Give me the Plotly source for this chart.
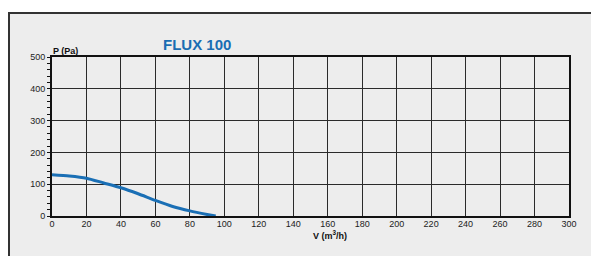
import plotly.graph_objects as go

flow = [0, 10, 20, 30, 40, 50, 60, 70, 80, 90, 95]
pressure = [130, 126, 119, 104, 89, 70, 49, 30, 16, 5, 0]
x_ticks = list(range(0, 301, 20))
y_ticks = list(range(0, 501, 100))

W, H = 591, 256
L, R, T, B = 52, 22, 57, 40
pw, ph = W - L - R, H - T - B

def px2paperx(px):
    return (px - L) / pw

def px2papery(py):
    return (H - B - py) / ph

fig = go.Figure()
fig.add_trace(go.Scatter(x=flow, y=pressure, mode="lines",
                         line=dict(color="#1a6fb5", width=3, shape="spline", smoothing=0.6),
                         hoverinfo="skip", showlegend=False, cliponaxis=False))

fig.add_shape(type="rect", xref="paper", yref="paper",
              x0=px2paperx(9), x1=px2paperx(W + 20), y0=px2papery(H + 20), y1=px2papery(13),
              line=dict(color="#333333", width=2), fillcolor="#ededed", layer="below")

font = "Liberation Sans, Arial, sans-serif"
fig.add_annotation(x=px2paperx(197), y=px2papery(44), xref="paper", yref="paper",
                   text="<b>FLUX 100</b>", showarrow=False, xanchor="center", yanchor="middle",
                   font=dict(family=font, size=15, color="#1a6db3"))
fig.add_annotation(x=px2paperx(51), y=px2papery(51), xref="paper", yref="paper",
                   text="<b>P (Pa)</b>", showarrow=False, xanchor="left", yanchor="middle",
                   font=dict(family=font, size=9, color="#111"))
fig.add_annotation(x=px2paperx(330), y=px2papery(235), xref="paper", yref="paper",
                   text="<b>V (m<sup>3</sup>/h)</b>", showarrow=False, xanchor="center", yanchor="middle",
                   font=dict(family=font, size=9, color="#111"))

fig.update_layout(
    width=W, height=H, margin=dict(l=L, r=R, t=T, b=B),
    paper_bgcolor="white", plot_bgcolor="rgba(0,0,0,0)",
    font=dict(family=font, size=9, color="#222"),
    xaxis=dict(range=[0, 300], tickvals=x_ticks, ticktext=[str(v) for v in x_ticks],
               showgrid=True, gridcolor="#2a2a2a", gridwidth=1,
               showline=True, linecolor="#111", linewidth=2, mirror=True,
               ticks="", ticklabelstandoff=-2, zeroline=False, fixedrange=True),
    yaxis=dict(range=[0, 500], tickvals=y_ticks, ticktext=[str(v) for v in y_ticks],
               showgrid=True, gridcolor="#2a2a2a", gridwidth=1,
               showline=True, linecolor="#111", linewidth=2, mirror=True,
               ticks="outside", ticklen=3, tickcolor="#111", tickwidth=1,
               minor=dict(dtick=20, ticks="outside", ticklen=3, tickcolor="#111", showgrid=False),
               zeroline=False, fixedrange=True),
)

fig.write_html("out.html", config={"displayModeBar": False},
               post_script="document.body.style.margin='0';")
